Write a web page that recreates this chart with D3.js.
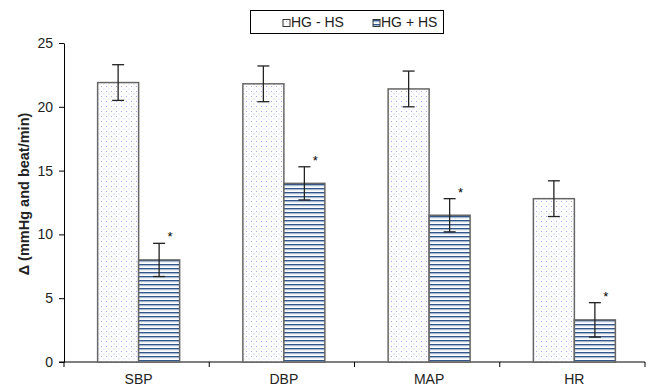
<!DOCTYPE html>
<html><head><meta charset="utf-8">
<script src="https://cdn.jsdelivr.net/npm/d3@7/dist/d3.min.js"></script>
<style>body{margin:0;background:#fff}svg{display:block;font-family:"Liberation Sans",Arial,sans-serif}</style>
</head><body><svg id="c" width="648" height="387"></svg>
<script>
const categories = ["SBP","DBP","MAP","HR"];
const seriesNames = ["HG - HS","HG + HS"];
const hgMinus = [21.9, 21.8, 21.4, 12.8];
const hgMinusErr = [1.4, 1.4, 1.4, 1.4];
const hgPlus = [8.0, 14.0, 11.5, 3.3];
const hgPlusErr = [1.3, 1.3, 1.3, 1.35];
const yTicks = [0,5,10,15,20,25];

const svg = d3.select("#c");
const defs = svg.append("defs");
const dots = defs.append("pattern").attr("id","dots").attr("patternUnits","userSpaceOnUse").attr("width",5).attr("height",5);
dots.append("rect").attr("width",5).attr("height",5).attr("fill","#fff");
dots.append("rect").attr("x",1).attr("y",1).attr("width",1).attr("height",1).attr("fill","#a8a8f0");
dots.append("rect").attr("x",3.5).attr("y",3.5).attr("width",1).attr("height",1).attr("fill","#c8c8f6");
const str = defs.append("pattern").attr("id","stripes").attr("patternUnits","userSpaceOnUse").attr("width",4).attr("height",4);
str.append("rect").attr("width",4).attr("height",4).attr("fill","#fff");
str.append("rect").attr("y",0).attr("width",4).attr("height",1.2).attr("fill","#34568a");
str.append("rect").attr("y",1.2).attr("width",4).attr("height",1).attr("fill","#9cb0c8");

const m = {l:64, r:645, t:43, b:362};
const x = d3.scaleBand().domain(categories).range([m.l, m.r]).paddingInner(0).paddingOuter(0);
const y = d3.scaleLinear().domain([0,25]).range([m.b, m.t]);
const bw = 41;

// axes
const yAxis = d3.axisLeft(y).tickValues(yTicks).tickSize(5).tickSizeOuter(0);
const gy = svg.append("g").attr("transform",`translate(${m.l},0)`).call(yAxis);
gy.select(".domain").attr("stroke","#000");
gy.selectAll("text").attr("font-size",14).attr("fill","#222").attr("dx",-3).attr("font-family","Liberation Sans, Arial, sans-serif");

const xb = [m.l].concat(categories.map(c => x(c)+x.bandwidth()));
const gx = svg.append("g");
gx.append("line").attr("x1",m.l-5).attr("x2",m.r).attr("y1",m.b).attr("y2",m.b).attr("stroke","#000");
gx.selectAll("line.t").data(xb).enter().append("line").attr("class","t")
  .attr("x1",d=>d).attr("x2",d=>d).attr("y1",m.b).attr("y2",m.b+5).attr("stroke","#000");
gx.selectAll("text").data(categories).enter().append("text")
  .attr("x",d=>x(d)+x.bandwidth()/2+2).attr("y",m.b+22).attr("text-anchor","middle")
  .attr("font-size",14).attr("fill","#222").text(d=>d);

svg.append("text").attr("transform","translate(29,194) rotate(-90)").attr("text-anchor","middle")
  .attr("font-size",14.5).attr("font-weight","bold").attr("fill","#222").text("Δ (mmHg and beat/min)");

const series = [
  {vals:hgMinus, err:hgMinusErr, fill:"url(#dots)", off:-bw, star:false},
  {vals:hgPlus, err:hgPlusErr, fill:"url(#stripes)", off:0, star:true}
];
series.forEach(s => {
  categories.forEach((c,i) => {
    const cx = x(c)+x.bandwidth()/2+2;
    const bx = cx + s.off;
    svg.append("rect").attr("x",bx).attr("y",y(s.vals[i])).attr("width",bw).attr("height",y(0)-y(s.vals[i]))
      .attr("fill",s.fill).attr("stroke","#666").attr("stroke-width",1.5);
  });
});
series.forEach(s => {
  categories.forEach((c,i) => {
    const cx = x(c)+x.bandwidth()/2+2 + s.off + bw/2;
    const hi = y(s.vals[i]+s.err[i]), lo = y(s.vals[i]-s.err[i]);
    const g = svg.append("g").attr("stroke","#222").attr("stroke-width",1.3);
    g.append("line").attr("x1",cx).attr("x2",cx).attr("y1",hi).attr("y2",lo);
    g.append("line").attr("x1",cx-6).attr("x2",cx+6).attr("y1",hi).attr("y2",hi);
    g.append("line").attr("x1",cx-6).attr("x2",cx+6).attr("y1",lo).attr("y2",lo);
    if (s.star) svg.append("text").attr("x",cx+11).attr("y",hi-2).attr("font-size",13).attr("text-anchor","middle").text("*");
  });
});

// legend
const lg = svg.append("g");
lg.append("rect").attr("x",250.5).attr("y",10.5).attr("width",193).attr("height",23).attr("fill","#fff").attr("stroke","#000");
const li = [{n:seriesNames[0], f:"url(#dots)", x:283},{n:seriesNames[1], f:"url(#stripes)", x:373}];
li.forEach(d => {
  lg.append("rect").attr("x",d.x).attr("y",19.5).attr("width",7).attr("height",7).attr("fill",d.f).attr("stroke","#333");
  lg.append("text").attr("x",d.x+8).attr("y",27).attr("font-size",14).attr("fill","#222").text(d.n);
});
</script></body></html>
